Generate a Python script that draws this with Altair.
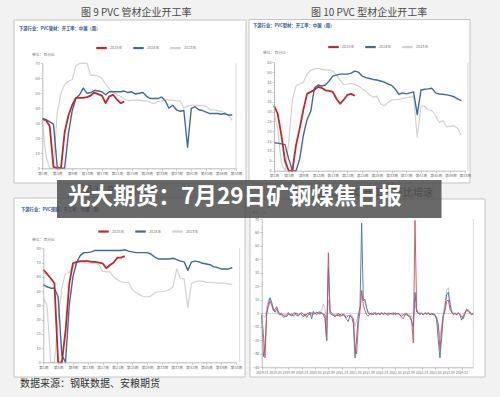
import altair as alt
import pandas as pd

FONT = "Noto Sans CJK SC"
H = 397

# ---------------- data ----------------
series_names = ["2025年", "2024年", "2023年"]
series_colors = ["#c0282e", "#41699a", "#d2d2d2"]
week_ticks = list(range(1, 54, 4))

# 图9 PVC管材企业开工率 (%)
a_2025 = [33, 32, 28, 1, 0, 0, 24, 35, 42, 47, 47, 47, 47.5, 48.5, 50.5, 49.5, 48.5, 43.5, 48, 49, 46, 43.5, 44.5]
a_2024 = [33, 32.5, 31, 29.5, 1, 0, 0, 23, 38, 46.5, 49, 53.5, 50, 50.5, 52, 51.5, 51, 49, 51, 51,
          51, 51, 51.5, 50.5, 51, 49.5, 50, 50.5, 48, 46.5, 46.5, 46.5, 47.5, 45, 40, 42, 39, 38, 38.5, 14,
          40, 41, 39, 38.5, 37.5, 36.5, 36.5, 36.5, 36, 36.5, 35.5, 35.5]
a_2023 = [32, 8, 0, 0, 37, 50, 56, 58, 59, 68, 70, 70, 70, 62, 62, 61.5, 60, 56, 53, 51,
          49, 48, 46.5, 45, 45.5, 45.5, 45.5, 45, 45, 44, 43, 44.5, 45, 45.5, 45.5, 45.5, 45, 45, 40, 41.5,
          42, 42, 42, 42, 41.5, 39, 39, 38.5, 38, 37, 35, 32]

# 图10 PVC型材企业开工率 (%)
b_2025 = [33, 29, 18, 5, 0, 0, 13, 21.5, 31, 39, 40, 41, 42.5, 42, 40.8, 40.5, 40, 36.5, 34, 36, 38.5, 39, 38]
b_2024 = [14.2, 14, 13.6, 13.2, 6, 0, 0, 6, 18, 26, 30, 42, 43.5, 43, 43.5, 45.5, 48, 48.5, 49, 49,
          49, 49.5, 50.5, 50, 48, 47.2, 46.8, 46.3, 46, 45.5, 45, 44, 43.3, 41.5, 38.8, 39.5, 39, 39.5, 40, 28.5,
          40.8, 41.3, 41.5, 41.8, 39.5, 38.9, 38.8, 38.5, 38.1, 37.5, 36.5, 35.5]
b_2023 = [29, 22, 4, 0, 14, 36, 43, 44, 45, 49, 51, 51.5, 52, 51.5, 51, 51, 50.5, 48.5, 46, 43.5,
          44, 44.3, 43.8, 43, 41.5, 40.5, 38.5, 37.3, 37.8, 34, 33, 34.5, 35.9, 36, 36.2, 36.6, 37, 37.3, 37.6, 17,
          32.8, 32.8, 30.8, 30.5, 28, 24.5, 25.4, 22.3, 22.5, 22.7, 21.5, 18.1]

# 图11 PVC开工率 (%)
c_2025 = [65, 62, 59, 55.5, 0, 0, 22, 55, 69.5, 70.5, 71, 71, 71, 70.5, 70.5, 70, 69.5, 66, 68.3, 70, 73.5, 73.5, 74.5]
c_2024 = [54.5, 53, 52, 52, 46, 5, 0, 40, 60, 70, 75, 77, 77, 77.5, 78.5, 78.5, 78.5, 78.5, 78.5, 78.5,
          78.5, 78.5, 79, 78, 77.5, 77, 77, 77, 77, 76, 74, 72.5, 72.5, 72.5, 72.5, 73, 72, 71, 70.5, 64.5,
          70.5, 71, 70.5, 69.5, 69, 68.5, 67, 66.5, 65.5, 65.5, 65.5, 66.5]
c_2023 = [45, 40, 0, 0, 30, 52, 62.5, 63, 67, 70, 70.5, 70, 69.5, 69.5, 69.5, 68.5, 64, 63.5, 63.5, 60,
          58, 56.5, 56, 56, 51, 49, 47.5, 46, 46, 46.5, 48.5, 49.5, 49.5, 50, 51, 53, 65.5, 59, 58.5, 38.5,
          55.5, 56.5, 57, 57, 56, 56, 56, 55.5, 55.5, 55.5, 55, 54.5]

# 图12 环比增速 (%)
d_names = ["管材开工率：环比", "型材开工率：环比", "薄膜开工率：环比"]
d_colors = ["#c9505a", "#4a6fa5", "#b9c6d8"]
d_red = [-1.5, -15, -33, 0, 5, 9, 6, 2, 3, 5,
         1, 0, -1, -3, -2.5, -1, 0.5, -1.5, -0.5, -2,
         -1, 0, -1.5, -0.5, 0.5, -1, -2, -0.5, 0, -1,
         0.5, -0.5, 0, -1, 0.5, 1, 0, -0.5, -1, -20,
         45, 2, 0, -1, -2, -1.5, 0, -2.5, -1, -0.5,
         -2, -3, -1.5, -2, -3, -4, -25, -30, -8, 2,
         17, 6, 2, -1, -2, 0, -1, 0.5, -0.5, -1,
         0, -0.5, 0.5, -1, 0, -0.5, -1.5, 0, -0.5, 0.5,
         -1, 0, -0.5, -1, -3, -4, -1, -1, -2, -2,
         -5, -22, 69, 3, 0, -0.5, 0, -1, 0.5, -0.5,
         0, -1, 0, -0.5, -1, -3, -8, -27, -12, -2,
         2, 9, 10, 3, 1, -1, 0, -1, 0, -1,
         -2, -4, 0, 3, 2, 0, -1, -0.5]
d_blue = [-1, -32, -25, 0, 7, 11.5, 8, 3, 1, 3.4,
          0, -1, -0.5, -1.5, -2, -2.5, -0.5, -1, -2, 0,
          0.5, -1.5, -2, 0, -1, -2.5, -0.5, -3, -1, 1,
          -4, 1.5, -0.5, 1, 0, -0.5, 0.5, -1, -4, -20,
          34, 0, -1, -1.5, -2.5, -1, -2, -0.5, -2, -1,
          -2.5, -4.5, -6, -1.5, -2.5, -7.5, -33, -18, -2, 5,
          67, 9.5, 10.5, 4, 0, -0.5, 0, -1, 0.5, -0.5,
          0, -1, 0, -0.5, 0.5, -1, 0, -0.5, 0, -1,
          0.5, -0.5, 0, -1.5, -2, -1, -0.5, 0, -1.5, -3,
          -6, -10, 15.6, 1, 0, -0.5, 0, -1, 0, -0.5,
          0.5, -1, -0.5, -1, -1, -5, -20, -33, -18, -2,
          4, 14, 15.6, 7, 1, -0.5, 0, -1, 0.5, -1,
          -5, -2, 0, 3, 2, 1, -1, 0.5]
d_gray = [0, -2, -3, 4, 10, 12, 8, 3, 1, 0,
          -0.5, 0, 0.5, -1, -1, 0, 0.5, -0.5, 0, -1,
          0, 0.5, -0.5, 0, 0.5, -0.5, -1, 0, 0.5, 0,
          -1, 0.5, 0, 0.5, 1, 1.5, 2, 7, 3, -5,
          10, 2, 0, -0.5, -1, 0, -0.5, -1, 0, -0.5,
          -1, -1.5, -2, -1, -1, -3, -10, -5, 0, 3,
          15, 10, 8, 3, 1, 0, -0.5, 0, 0.5, 0,
          -0.5, 0, 0.5, 0, -0.5, 0, 0.5, 0, -0.5, 0,
          0, -0.5, 0, -0.5, -1, -1, 0, -0.5, -1, -1,
          -2, -4, 6, 2, 0, 0.5, 0, -0.5, 0, 0,
          0.5, 0, -0.5, 0, -1, -4, -10, -18, -8, 0,
          8, 17, 19, 10, 3, 0, 0.5, -0.5, 0, -1,
          -2, -1, 1, 2, 1, 0.5, 0, 0]
d_xticks = list(range(0, 128, 8))
d_xlabels = ["2019-01", "2019-05", "2019-09", "2020-01", "2020-05", "2020-09", "2021-01", "2021-05",
             "2021-09", "2022-01", "2022-05", "2022-09", "2023-01", "2023-05", "2023-09", "2024-01"]


def long_df(names, lists, start):
    rows = []
    for name, vals in zip(names, lists):
        for i, v in enumerate(vals):
            rows.append({"week": i + start, "value": v, "series": name})
    return pd.DataFrame(rows)


one = pd.DataFrame({"k": [0]})

AX = dict(title=None, grid=False, labelFont=FONT, labelFontSize=3.8, labelColor="#777",
          tickSize=2, tickWidth=0.6, tickColor="#aaaaaa", domainColor="#aaaaaa", domainWidth=0.8,
          labelPadding=1, labelOverlap=False, labelFlush=False, zindex=1)


def panel(df, names, colors, widths, xdom, xrange, ydom, yrange, xticks, yticks, xexpr,
          legend_xy, right_x, xlabel_size=3.8, zero_line=False, show_legend=True):
    if show_legend:
        leg = alt.Legend(orient="none", legendX=legend_xy[0], legendY=legend_xy[1], direction="horizontal",
                         title=None, symbolType="stroke", symbolSize=110, symbolStrokeWidth=2.2,
                         labelFontSize=3.8, labelColor="#777", labelFont=FONT, columnPadding=5,
                         labelOffset=2, padding=0)
    else:
        leg = None
    color = alt.Color("series:N", scale=alt.Scale(domain=names, range=colors), legend=leg)
    xa = dict(AX)
    xa["labelFontSize"] = xlabel_size
    x = alt.X("week:Q", scale=alt.Scale(domain=xdom, range=xrange, nice=False, zero=False),
              axis=alt.Axis(orient="bottom", offset=yrange[0] - H, values=xticks, labelExpr=xexpr, **xa))
    y = alt.Y("value:Q", scale=alt.Scale(domain=ydom, range=yrange, nice=False, zero=False),
              axis=alt.Axis(orient="left", offset=-xrange[0], values=yticks, **AX))
    layers = []
    if zero_line:
        zdf = pd.DataFrame({"week": [xdom[0]], "week2": [xdom[1]], "value": [0]})
        layers.append(alt.Chart(zdf).mark_rule(color="#c8c8c8", strokeWidth=0.8).encode(
            x=x, x2=alt.X2("week2:Q"), y=y))
    for name, w in reversed(list(zip(names, widths))):
        layers.append(alt.Chart(df).transform_filter(alt.datum.series == name)
                      .mark_line(strokeWidth=w, strokeJoin="round")
                      .encode(x=x, y=y, color=color))
    rdf = pd.DataFrame({"week": [right_x], "value": [ydom[0]], "value2": [yticks[-1]]})
    layers.append(alt.Chart(rdf).mark_rule(color="#cfcfcf", strokeWidth=0.8).encode(
        x=x, y=y, y2=alt.Y2("value2:Q")))
    return alt.layer(*layers)


def rect(x1, x2, y1, y2, fill, stroke="#c4c4c4", opacity=1.0):
    return alt.Chart(one).mark_rect(fill=fill, stroke=stroke, strokeWidth=1, opacity=opacity).encode(
        x=alt.value(x1), x2=alt.value(x2), y=alt.value(y1), y2=alt.value(y2))


def note(text, x, y, size, color="#555", align="left", weight="normal"):
    return alt.Chart(one).mark_text(text=text, fontSize=size, color=color, align=align,
                                    baseline="middle", font=FONT, fontWeight=weight).encode(
        x=alt.value(x), y=alt.value(y))


week_expr = "'第' + datum.value + '周'"
d_expr = "[" + ",".join("'" + s + "'" for s in d_xlabels) + "][round(datum.value / 8)]"

pa = panel(long_df(series_names, [a_2025, a_2024, a_2023], 1), series_names, series_colors, [1.8, 1.4, 1.2],
           [1, 53], [42.3, 236], [0, 70], [168.3, 63.3], week_ticks, list(range(0, 71, 10)), week_expr,
           (95, 41.5), 53)
pb = panel(long_df(series_names, [b_2025, b_2024, b_2023], 1), series_names, series_colors, [1.8, 1.4, 1.2],
           [1, 53], [274, 465], [0, 55], [170.7, 62.3], week_ticks, list(range(0, 56, 5)), week_expr,
           (327, 40.5), 53.8)
pc = panel(long_df(series_names, [c_2025, c_2024, c_2023], 1), series_names, series_colors, [1.8, 1.4, 1.2],
           [1, 53], [43.3, 236], [0, 80], [362.3, 248.3], week_ticks, list(range(0, 81, 10)), week_expr,
           (97, 225), 54)
pdd = panel(long_df(d_names, [d_red, d_blue, d_gray], 0), d_names, d_colors, [0.9, 0.9, 0.9],
            [0, 127], [261.7, 473.3], [-40, 70], [367.3, 219], d_xticks, list(range(-40, 71, 10)), d_expr,
            (290, 203), 127, xlabel_size=3.3, zero_line=True, show_legend=False)

deco = [
    rect(14, 246, 20, 183, "white"),
    rect(249, 470, 19.5, 183, "white"),
    rect(14, 245, 198, 377, "white"),
    rect(250, 485, 199, 377, "white"),
    note("图 9   PVC 管材企业开工率", 81, 13, 10, "#4a4a4a"),
    note("图 10   PVC 型材企业开工率", 311, 13, 10, "#4a4a4a"),
    note("图 11   PVC 开工率", 82, 191, 10, "#4a4a4a"),
    note("图 12   PVC 开工率环比增速", 433, 193, 10, "#4a4a4a", align="right"),
    note("下游行业：PVC管材：开工率：中国（周）", 19, 28.5, 4.3, "#2f5597", weight="bold"),
    note("下游行业：PVC型材：开工率：中国（周）", 253, 26, 4.3, "#2f5597", weight="bold"),
    note("下游行业：PVC薄膜：开工率：中国（周）", 21, 209.5, 4.3, "#2f5597", weight="bold"),
    note("单位：百分比", 32, 55, 3.8, "#777"),
    note("单位：百分比", 263, 53, 3.8, "#777"),
    note("单位：百分比", 32, 239.5, 3.8, "#777"),
    note("单位：%", 252, 213, 3.6, "#777"),
    note("数据来源：钢联数据、安粮期货", 20, 384, 10, "#333"),
]

banner = [
    rect(57, 441.5, 180, 218, "#4d4d4d", stroke="transparent", opacity=0.84),
    note("光大期货：7月29日矿钢煤焦日报", 68, 197, 22.6, "white", weight="bold"),
]

chart = (
    alt.layer(*deco, pa, pb, pc, pdd, *banner)
    .resolve_scale(x="independent", y="independent", color="independent")
    .properties(width=500, height=397, padding=0, autosize=alt.AutoSizeParams(type="none"))
    .configure(background="#f2f2f2", font=FONT)
    .configure_view(stroke="transparent")
)

chart.save("out.html", embed_options={"renderer": "svg", "actions": False})
